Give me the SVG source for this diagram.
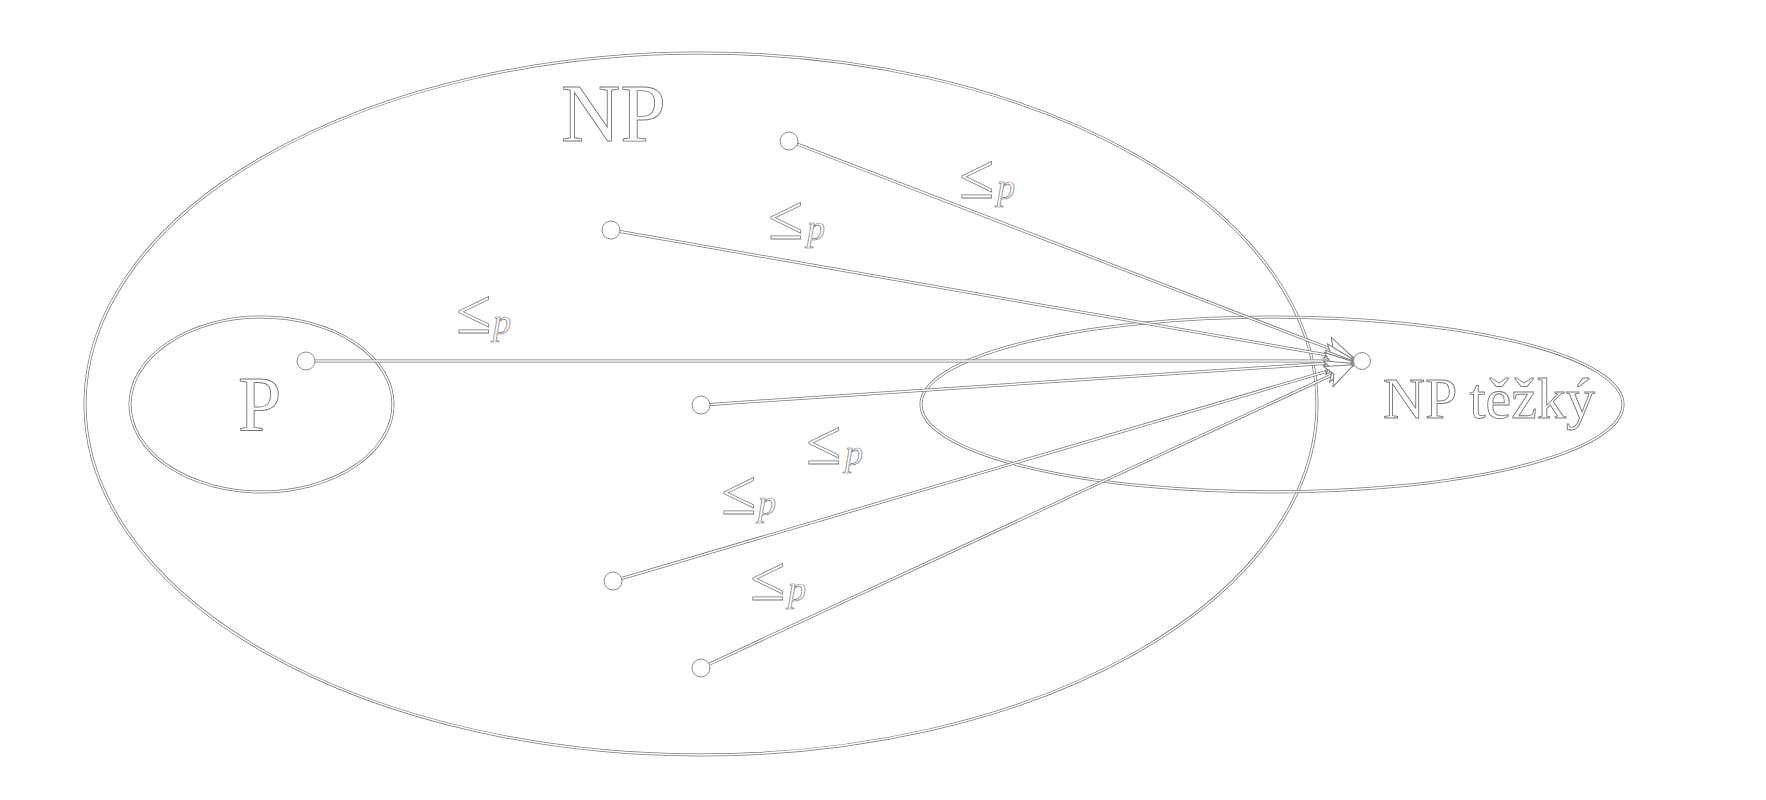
<svg xmlns="http://www.w3.org/2000/svg" xmlns:xlink="http://www.w3.org/1999/xlink" width="1766" height="800" viewBox="0 0 1766 800">
<style>
.o{fill:none;stroke:#7a7a7a;stroke-width:3}
.i{fill:none;stroke:#ffffff;stroke-width:1.5}
.a{fill:none;stroke:none;marker-end:url(#arr)}
.dot{fill:#ffffff;stroke:#8a8a8a;stroke-width:1}
.t{font-family:"Liberation Serif","DejaVu Serif",serif;fill:#ffffff;stroke:#777777;stroke-width:0.9}
.lab{font-family:"Liberation Serif","DejaVu Serif",serif;font-size:64px;fill:#ffffff;stroke:#777777;stroke-width:0.8}
.sub{font-size:36px;font-style:italic;stroke-width:0.7}
</style>
<defs>
<marker id="arr" markerUnits="userSpaceOnUse" markerWidth="40" markerHeight="30" refX="0" refY="0" viewBox="-32 -15 34 30" orient="auto">
<path d="M0,0 L-28,-11 L-22,0 L-28,11 Z" fill="#ffffff" stroke="#7a7a7a" stroke-width="1"/>
</marker>
<ellipse id="eNP" cx="701" cy="404" rx="616" ry="351"/>
<ellipse id="eP" cx="261.5" cy="404.5" rx="131.5" ry="87.5"/>
<ellipse id="eH" cx="1272" cy="404.5" rx="351" ry="87.5"/>
<path id="c1" d="M797.4,144.2 L1353.6,357.8"/>
<path id="c2" d="M619.9,231.5 L1353.1,359.5"/>
<path id="c3" d="M315,361 L1353,361"/>
<path id="c4" d="M710,404.4 L1353,361.6"/>
<path id="c5" d="M621.6,578.5 L1353.4,363.5"/>
<path id="c6" d="M709.2,664.2 L1353.8,364.8"/>
</defs>
<rect width="1766" height="800" fill="#ffffff"/>
<g id="node-NP">
<use xlink:href="#eNP" class="o"/><use xlink:href="#eNP" class="i"/>
<text class="t" x="561" y="141" font-size="82">NP</text>
</g>
<g id="node-P">
<use xlink:href="#eP" class="o"/><use xlink:href="#eP" class="i"/>
<text class="t" x="238" y="430" font-size="78">P</text>
</g>
<g id="node-NPhard">
<use xlink:href="#eH" class="o"/><use xlink:href="#eH" class="i"/>
<text class="t" x="1383" y="418" font-size="58">NP těžký</text>
</g>
<g id="connectors">
<use xlink:href="#c1" class="o"/><use xlink:href="#c2" class="o"/><use xlink:href="#c3" class="o"/>
<use xlink:href="#c4" class="o"/><use xlink:href="#c5" class="o"/><use xlink:href="#c6" class="o"/>
<use xlink:href="#c1" class="i"/><use xlink:href="#c2" class="i"/><use xlink:href="#c3" class="i"/>
<use xlink:href="#c4" class="i"/><use xlink:href="#c5" class="i"/><use xlink:href="#c6" class="i"/>
<use xlink:href="#c1" class="a"/><use xlink:href="#c2" class="a"/><use xlink:href="#c3" class="a"/>
<use xlink:href="#c4" class="a"/><use xlink:href="#c5" class="a"/><use xlink:href="#c6" class="a"/>
<text class="lab" x="959" y="198">≤<tspan class="sub" x="997" y="199">p</tspan></text>
<text class="lab" x="768" y="239">≤<tspan class="sub" x="807" y="240">p</tspan></text>
<text class="lab" x="456" y="333">≤<tspan class="sub" x="493" y="334">p</tspan></text>
<text class="lab" x="806" y="464">≤<tspan class="sub" x="845" y="465">p</tspan></text>
<text class="lab" x="721" y="514">≤<tspan class="sub" x="758" y="515">p</tspan></text>
<text class="lab" x="750" y="600">≤<tspan class="sub" x="788" y="601">p</tspan></text>
</g>
<g id="node-src1"><circle class="dot" cx="789" cy="141" r="9"/></g>
<g id="node-src2"><circle class="dot" cx="611" cy="230" r="9"/></g>
<g id="node-src3"><circle class="dot" cx="306" cy="361" r="9"/></g>
<g id="node-src4"><circle class="dot" cx="701" cy="405" r="9"/></g>
<g id="node-src5"><circle class="dot" cx="613" cy="581" r="9"/></g>
<g id="node-src6"><circle class="dot" cx="701" cy="668" r="9"/></g>
<g id="node-target"><circle class="dot" cx="1362" cy="361" r="8.5"/></g>
</svg>
